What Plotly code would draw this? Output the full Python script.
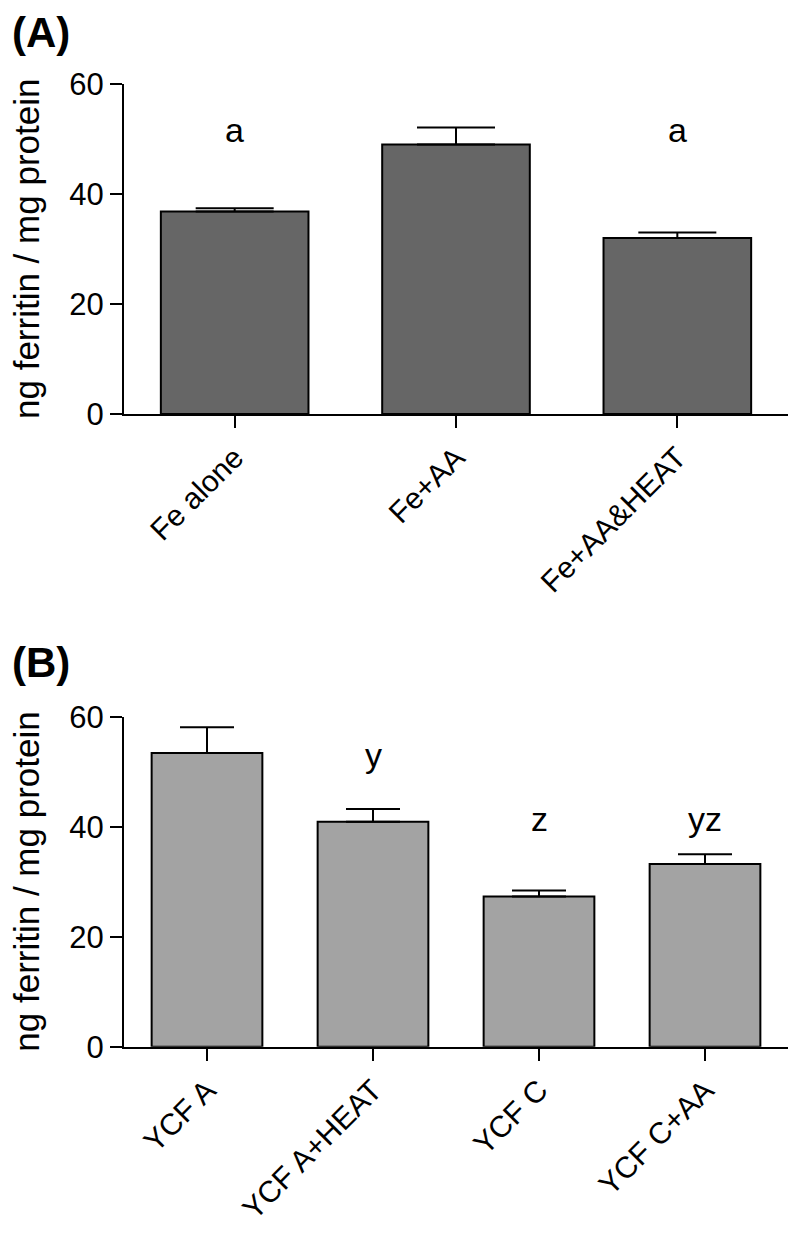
import plotly.graph_objects as go
from plotly.subplots import make_subplots

# Panel A
groups_a = ["Fe alone", "Fe+AA", "Fe+AA&HEAT"]
means_a = [36.8, 49.0, 32.0]
sem_a = [0.6, 3.1, 1.0]
letters_a = ["a", "b", "a"]
letter_heights_a = [51.6, 66.7, 51.6]

# Panel B
groups_b = ["YCF A", "YCF A+HEAT", "YCF C", "YCF C+AA"]
means_b = [53.4, 40.9, 27.3, 33.2]
sem_b = [4.7, 2.3, 1.1, 1.8]
letters_b = ["x", "y", "z", "yz"]
letter_heights_b = [65.8, 53.0, 41.4, 41.4]

W, H = 790, 1234
FONT = "Arial, Liberation Sans, sans-serif"

fig = make_subplots(rows=2, cols=1)

fig.add_trace(
    go.Bar(
        x=groups_a, y=means_a, width=0.667,
        marker=dict(color="#666666", line=dict(color="black", width=2)),
        error_y=dict(type="data", array=sem_a, arrayminus=[0] * len(sem_a),
                     symmetric=False, color="black", thickness=2, width=39),
        showlegend=False,
    ),
    row=1, col=1,
)
fig.add_trace(
    go.Bar(
        x=groups_b, y=means_b, width=0.667,
        marker=dict(color="#a3a3a3", line=dict(color="black", width=2)),
        error_y=dict(type="data", array=sem_b, arrayminus=[0] * len(sem_b),
                     symmetric=False, color="black", thickness=2, width=27),
        showlegend=False,
    ),
    row=2, col=1,
)

# domains in paper coords, measured in pixels
x_dom = [124 / W, 788 / W]
ya_dom = [1 - 414 / H, 1 - 84 / H]
yb_dom = [1 - 1046.7 / H, 1 - 716.7 / H]

axis_common = dict(
    showline=True, linecolor="black", linewidth=2,
    ticks="outside", ticklen=12, tickwidth=2, tickcolor="black",
    showgrid=False, zeroline=False, automargin=False,
)
xtick_font = dict(size=30, family=FONT, color="black")
ytick_font = dict(size=31, family=FONT, color="black")

fig.update_xaxes(axis_common, domain=x_dom, tickangle=-45, tickfont=xtick_font,
                 range=[-0.5, 2.5], row=1, col=1)
fig.update_xaxes(axis_common, domain=x_dom, tickangle=-45, tickfont=xtick_font,
                 range=[-0.5, 3.5], row=2, col=1)
fig.update_yaxes(axis_common, domain=ya_dom, range=[0, 60], tickvals=[0, 20, 40, 60],
                 tickfont=ytick_font, row=1, col=1)
fig.update_yaxes(axis_common, domain=yb_dom, range=[0, 60], tickvals=[0, 20, 40, 60],
                 tickfont=ytick_font, row=2, col=1)

letter_font = dict(size=34, family=FONT, color="black")
annotations = []
for g, lt, h in zip(groups_a, letters_a, letter_heights_a):
    annotations.append(dict(x=g, y=h, xref="x", yref="y", text=lt, showarrow=False,
                            yanchor="middle", font=letter_font))
for g, lt, h in zip(groups_b, letters_b, letter_heights_b):
    annotations.append(dict(x=g, y=h, xref="x2", yref="y2", text=lt, showarrow=False,
                            yanchor="middle", font=letter_font))

# panel labels
for lab, yc in (("(A)", 33), ("(B)", 662)):
    annotations.append(dict(x=10 / W, y=1 - yc / H, xref="paper", yref="paper",
                            text=f"<b>{lab}</b>", showarrow=False,
                            xanchor="left", yanchor="middle",
                            font=dict(size=42, family=FONT, color="black")))

# y-axis titles
for dom in (ya_dom, yb_dom):
    annotations.append(dict(x=27 / W, y=(dom[0] + dom[1]) / 2, xref="paper", yref="paper",
                            text="ng ferritin / mg protein", textangle=-90, showarrow=False,
                            xanchor="center", yanchor="middle",
                            font=dict(size=35, family=FONT, color="black")))

fig.update_layout(
    width=W, height=H,
    margin=dict(l=0, r=0, t=0, b=0, autoexpand=False),
    plot_bgcolor="white", paper_bgcolor="white",
    annotations=annotations,
    showlegend=False,
)

fig.write_html("out.html", config={"displayModeBar": False},
               post_script="document.body.style.margin='0';")
